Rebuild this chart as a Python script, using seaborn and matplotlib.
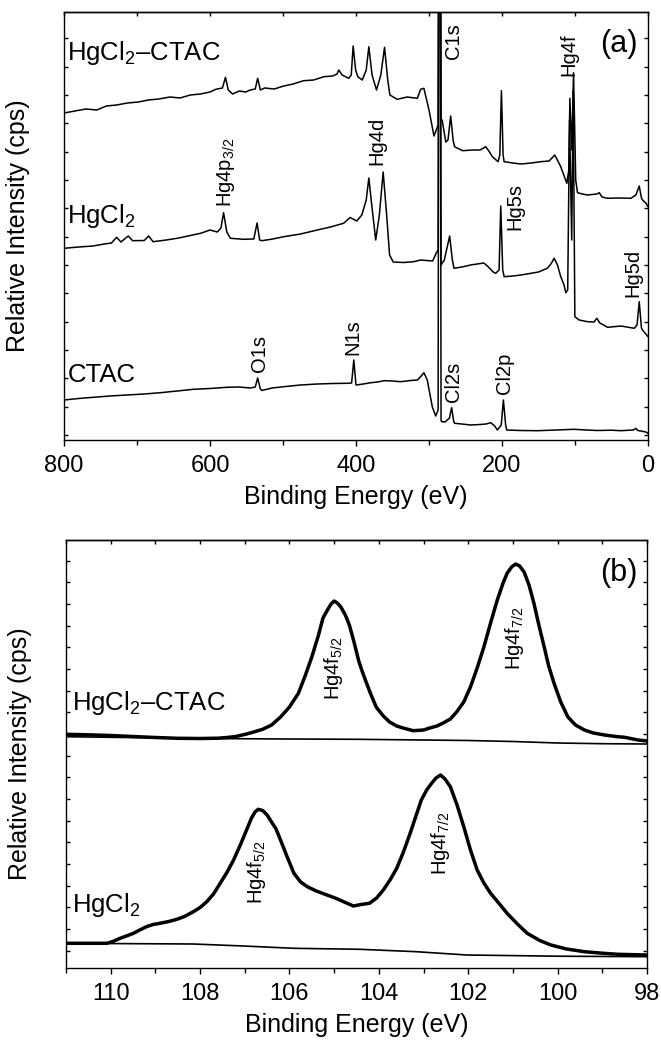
import numpy as np
import pandas as pd
import matplotlib
matplotlib.use("Agg")
import matplotlib.pyplot as plt
import seaborn as sns
from matplotlib.ticker import MultipleLocator, FuncFormatter

# ---------------- data ----------------
# (a) survey spectra: binding energy (eV) and relative intensity (arb., offset stacked)
hgctac_be = [800, 785, 770, 755, 742, 728, 713, 698, 684.5, 670, 655, 641, 627, 613, 600, 592, 583,
             578.8, 575, 569, 560, 551, 545, 538, 534.7, 531, 525, 512, 499, 486, 472, 458, 444, 432,
             426, 423.6, 419, 410, 406.5, 403.9, 400.5, 397.5, 391.5, 386, 382.4, 378, 371.9, 366,
             360.9, 356.5, 353.6, 343.5, 330, 316, 311.5, 307, 300, 293.2, 290, 287.5, 285.5,
             283.5, 282, 277, 274, 270.3, 267, 265, 254, 240, 230, 222.3, 218, 213.2, 205.4, 203, 200.8,
             198.5, 197.1, 185, 174.3, 160, 147, 135.5, 127.7, 119.5, 111.2, 108.5, 107, 104.5, 102,
             99, 96.6, 90, 82.9, 70, 66.8, 63, 55.4, 40, 23.4, 16.6, 12, 9, 7.5, 3, 0]
hgctac_int = [327, 329, 331, 330, 334, 335, 337, 338, 340, 341, 343, 342, 345, 346, 348, 350.7, 352,
              362.7, 350, 346, 349, 348, 350, 351, 361.7, 350, 352, 351, 354, 356, 359.3, 360, 363.3, 364,
              366, 370, 365, 361.7, 365, 394, 370, 363.3, 360, 370, 393.3, 365, 350, 365,
              392.7, 360, 345, 340.7, 343, 341.7, 350.7, 351.7, 330, 304, 310, 315, 1000,
              320, 320, 298, 300, 324, 300, 293.3, 289.3, 290, 290, 293.3, 289, 283.3, 278.3, 285, 349.3,
              285, 278.3, 277, 276, 277, 278.3, 279, 285, 273.3, 256.7, 270, 341.7, 290, 367.3,
              260, 247.3, 246, 245, 246, 247.3, 243, 241.7, 242, 241.7, 245, 254, 242, 240, 237, 233.3]

hgcl2_be = [800, 780, 760, 745, 735, 728, 722, 712, 706, 690, 684, 678, 660, 645, 630, 613, 600, 590,
            585, 581.4, 577, 572, 554, 540, 535.5, 532, 529, 514, 499, 476, 453, 435, 417, 408, 399,
            392, 386, 382.4, 378, 373, 368, 362.8, 358, 354, 349, 335, 321, 311.5, 295, 290, 287.5,
            285.5, 283.5, 279, 276, 271.7, 268, 265.7, 255, 243, 225, 220, 212, 208.6, 204,
            201.7, 199, 197, 185, 174, 150, 138, 133, 128.6, 124, 119.5, 115, 112.6, 110, 107.5,
            104.5, 102.5, 100.2, 94.3, 82.9, 74, 70, 66, 55.4, 37, 18.8, 15, 12, 9, 7.5, 3, 0]
hgcl2_int = [191.7, 193, 194, 196, 197, 202.7, 198, 204, 199.3, 199.5, 204, 198.3, 200, 201.7, 204,
             206.7, 210, 208, 212, 227.3, 208, 201.7, 200.7, 201, 217, 200, 199.3, 201, 203.3, 206,
             210, 213, 216.7, 222.5, 219, 225, 240, 262, 232, 200, 225, 268, 225, 185, 178, 177.5,
             178.3, 180, 179, 187, 190, 1000, 175, 180, 190, 204, 180, 171.7, 173, 175, 177,
             174, 168, 166.7, 170, 234, 170, 163.3, 164, 165, 168, 171.7, 176, 181.7, 175, 163.3,
             155, 147.3, 150, 320, 200, 350, 123.3, 120, 118.3, 118, 121.7, 117, 112.7, 114, 111.7,
             115, 138.3, 112, 110, 106, 103.3]

ctac_be = [800, 780, 760, 737, 714, 690, 668, 645, 623, 600, 577, 560, 545, 538, 534.7, 531, 529,
           515, 499, 476, 453, 432, 412, 406, 403, 400, 390, 380, 370, 362, 350, 339, 325, 316, 311.5,
           307, 302.4, 295.5, 290.9, 287.5, 285.5, 283.5, 282.7, 278, 272, 269, 266, 264.8,
           255, 243, 230, 222, 215.4, 210, 206.3, 201, 198.1, 195, 193.5, 175, 151.5, 125, 101.3,
           85, 69.3, 50, 37.3, 20, 16.6, 14, 9.8, 3, 0]
ctac_int = [40, 41.5, 42.7, 44, 45, 46, 47.3, 49, 50.7, 51.5, 52.7, 53, 52, 53, 62, 51, 49.5,
            52, 53.3, 55, 56, 56.5, 56.7, 57, 80, 55, 56, 57.3, 58, 59.3, 59, 58.3, 59.5, 60, 63.3,
            67.3, 60, 33.3, 24, 30, 1000, 20, 18.3, 18, 22, 32.3, 18, 16.7,
            16, 15, 15.5, 16, 17.3, 14, 10, 15, 40, 15, 10, 9.5, 9.3, 10, 10.7,
            10, 9.5, 9.8, 9.3, 10, 11.7, 9.5, 9, 8, 6.7]

# (b) Hg4f high-resolution spectra and their backgrounds
hr_ctac_be = [111, 110.5, 110, 109.5, 109, 108.5, 108, 107.6, 107.4, 107.2, 106.96, 106.8, 106.6,
              106.4, 106.2, 106.0, 105.8, 105.65, 105.5, 105.35, 105.25, 105.15, 105.07, 105.0,
              104.93, 104.85, 104.75, 104.66, 104.55, 104.45, 104.36, 104.2, 104.06, 103.9, 103.76,
              103.6, 103.46, 103.23, 103.0, 102.86, 102.7, 102.56, 102.4, 102.26, 102.1, 101.95,
              101.8, 101.65, 101.5, 101.35, 101.22, 101.13, 101.03, 100.94, 100.85, 100.75, 100.64,
              100.53, 100.42, 100.3, 100.2, 100.08, 99.93, 99.77, 99.6, 99.4, 99.2, 98.95, 98.7,
              98.5, 98.2, 98]
hr_ctac_int = [233.7, 233.2, 232.5, 231.5, 230.5, 229.7, 229.5, 229.8, 230.5, 231.5, 234, 236, 238.7,
               243, 251, 261, 274.7, 292, 311, 333, 350, 358, 364, 367,
               365, 361, 353, 343, 325, 307, 295, 276, 261, 252, 246,
               242, 240, 237.3, 238, 240, 242, 245, 249, 256, 266, 281,
               300, 321, 345, 368, 385, 394.7, 401, 404, 402, 396, 383,
               364.7, 343, 321, 302, 284.7, 266, 251, 243, 238, 235, 233, 231.5,
               230.7, 228, 227]
bg_ctac_be = [111, 108, 106, 104.5, 103, 102, 101, 100, 99, 98]
bg_ctac_int = [231.3, 229.5, 229, 228.7, 228, 227.5, 226.5, 225, 224.3, 224]

hr_hgcl2_be = [111, 110.5, 110.09, 109.95, 109.79, 109.65, 109.49, 109.35, 109.2, 109.05, 108.9,
               108.7, 108.52, 108.35, 108.15, 108.0, 107.85, 107.7, 107.55, 107.4, 107.25, 107.1,
               106.96, 106.85, 106.77, 106.7, 106.6, 106.5, 106.43, 106.3, 106.2, 106.05, 105.9,
               105.75, 105.6, 105.4, 105.16, 104.95, 104.79, 104.57, 104.4, 104.21, 104.05, 103.9,
               103.75, 103.6, 103.45, 103.3, 103.17, 103.05, 102.93, 102.82, 102.72, 102.62, 102.52,
               102.4, 102.25, 102.1, 101.95, 101.8, 101.65, 101.5, 101.3, 101.13, 100.9, 100.68,
               100.4, 100.15, 99.8, 99.4, 99.0, 98.65, 98]
hr_hgcl2_int = [24.7, 24.7, 24.7, 26.5, 29.7, 32, 34.7, 38, 41.3, 43.5, 44.7,
                46.5, 48.7, 51.5, 56.3, 60.5, 66.3, 74, 84.7, 95.5, 108, 123,
                138, 150, 156, 158.7, 157.5, 153, 148, 139, 128, 111, 94.7,
                86, 81.3, 77, 73, 69.5, 66.3, 62, 63.5, 64.7, 70, 78,
                88, 99.7, 116, 134.7, 152, 168, 178, 184.7, 190, 193, 189,
                181.3, 163, 141.3, 118, 98, 85, 74.7, 64, 54.7, 44, 34.7,
                27.5, 23, 19, 16.3, 14.8, 13.7, 13]
bg_hgcl2_be = [111, 108.15, 107.03, 105.9, 104.42, 103.16, 102.03, 100, 98]
bg_hgcl2_int = [24.7, 24, 22, 19.7, 18.7, 16.3, 13, 11.8, 11.3]

# ---------------- style ----------------
sns.set_theme(style="ticks")
plt.rcParams["font.family"] = ["Liberation Sans", "DejaVu Sans"]
plt.rcParams["mathtext.fontset"] = "custom"
plt.rcParams["mathtext.rm"] = "Liberation Sans"
for k in ["text.color", "axes.labelcolor", "xtick.color", "ytick.color", "axes.edgecolor"]:
    plt.rcParams[k] = "black"
plt.rcParams["axes.linewidth"] = 1.0

fig = plt.figure(figsize=(6.61, 10.51), dpi=100)
W, H = 661, 1051
ax1 = fig.add_axes([64 / W, 1 - 440 / H, 584 / W, 428 / H])
ax2 = fig.add_axes([66 / W, 1 - 968 / H, 581 / W, 428 / H])

def draw(ax, be, inten, lw):
    df = pd.DataFrame({"be": be, "i": inten})
    sns.lineplot(data=df, x="be", y="i", ax=ax, color="black", lw=lw,
                 estimator=None, sort=False)

for be, it in [(hgctac_be, hgctac_int), (hgcl2_be, hgcl2_int), (ctac_be, ctac_int)]:
    draw(ax1, be, it, 1.1)

draw(ax2, bg_ctac_be, bg_ctac_int, 1.2)
draw(ax2, bg_hgcl2_be, bg_hgcl2_int, 1.2)
draw(ax2, hr_ctac_be, hr_ctac_int, 2.5)
draw(ax2, hr_hgcl2_be, hr_hgcl2_int, 2.5)

TICK_FS = 17
LAB_FS = 18
SAMPLE_FS = 18.5
PEAK_FS = 14.5

def style(ax, xlim, ylim, major, minor, yticks):
    ax.set_xlim(*xlim)
    ax.set_ylim(*ylim)
    ax.xaxis.set_major_locator(MultipleLocator(major))
    ax.xaxis.set_minor_locator(MultipleLocator(minor))
    ax.tick_params(axis="x", which="major", direction="out", length=4.5, width=1.0,
                   labelsize=TICK_FS, pad=6, top=False, bottom=True)
    ax.tick_params(axis="x", which="minor", direction="out", length=3.5, width=1.0,
                   top=False, bottom=True)
    ax.set_yticks(yticks)
    ax.tick_params(axis="y", which="major", direction="in", length=3, width=1.0,
                   left=True, right=True, labelleft=False)
    sec = ax.secondary_xaxis("top")
    sec.xaxis.set_major_locator(MultipleLocator(minor))
    sec.tick_params(axis="x", which="major", direction="in", length=3, width=1.0,
                    labeltop=False)
    sec.spines["top"].set_linewidth(1.0)
    for s in ax.spines.values():
        s.set_visible(True)
        s.set_linewidth(1.0)
        s.set_color("black")
    ax.set_xlabel("Binding Energy (eV)", fontsize=LAB_FS)
    ax.set_ylabel("Relative Intensity (cps)", fontsize=LAB_FS)
    ax.yaxis.set_label_coords(-0.058, 0.5)
    ax.xaxis.set_label_coords(0.5, -0.105)

style(ax1, (800, 0), (0, 428), 200, 100, np.arange(5, 428, 28.33))
style(ax2, (111, 98), (0, 428), 2, 1, np.arange(17.3, 428, 21.67))
ax1.xaxis.set_major_formatter(FuncFormatter(lambda v, p: f"{v:.0f}"))

# sample names
sub2 = r"HgCl$_\mathregular{2}$"
ax1.text(0.005, 0.888, sub2 + "\u2013CTAC", transform=ax1.transAxes, fontsize=SAMPLE_FS,
         ha="left", va="baseline")
ax1.text(0.005, 0.508, sub2, transform=ax1.transAxes, fontsize=SAMPLE_FS, ha="left", va="baseline")
ax1.text(0.006, 0.136, "CTAC", transform=ax1.transAxes, fontsize=SAMPLE_FS, ha="left", va="baseline")
ax2.text(0.0098, 0.603, sub2 + "\u2013CTAC", transform=ax2.transAxes, fontsize=SAMPLE_FS,
         ha="left", va="baseline")
ax2.text(0.0098, 0.1316, sub2, transform=ax2.transAxes, fontsize=SAMPLE_FS, ha="left", va="baseline")

ax1.text(0.983, 0.925, "(a)", transform=ax1.transAxes, fontsize=22, ha="right", va="center")
ax2.text(0.983, 0.922, "(b)", transform=ax2.transAxes, fontsize=22, ha="right", va="center")

# peak labels (rotated)
peaks_a = [("C1s", 265.8, 399), ("Hg4f", 108, 385), ("Hg4d", 371, 299),
           (r"Hg4p$_\mathregular{3/2}$", 577.7, 268), ("Hg5s", 183, 233.5), ("Hg5d", 20.3, 167.5),
           ("O1s", 531.6, 86), ("N1s", 403.9, 103), ("Cl2s", 266.8, 58), ("Cl2p", 196.3, 67)]
for t, x, y in peaks_a:
    ax1.text(x, y, t, rotation=90, fontsize=PEAK_FS, ha="center", va="center")

f52 = r"Hg4f$_\mathregular{5/2}$"
f72 = r"Hg4f$_\mathregular{7/2}$"
peaks_b = [(f52, 105.02, 300), (f52, 106.73, 96), (f72, 100.96, 330), (f72, 102.63, 125)]
for t, x, y in peaks_b:
    ax2.text(x, y, t, rotation=90, fontsize=PEAK_FS, ha="center", va="center")

fig.savefig("out.png", dpi=100)
